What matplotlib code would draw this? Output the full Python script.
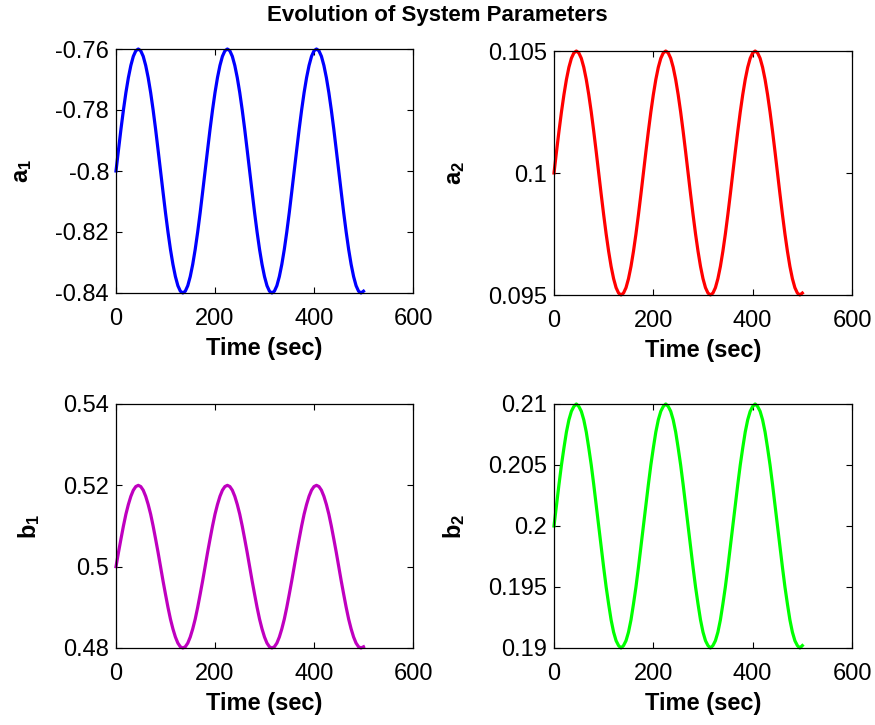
import matplotlib
matplotlib.use("Agg")
import matplotlib.pyplot as plt
import numpy as np

plt.rcParams['font.family'] = ['Liberation Sans', 'DejaVu Sans']
plt.rcParams['mathtext.default'] = 'regular'

# sample times (sec), every 5 s from 0 to 500
time_sec = np.arange(0, 505, 5)

a1 = [
    -0.8, -0.7931, -0.7863, -0.78, -0.7743, -0.7694, -0.7654, -0.7624, -0.7606, -0.76, -0.7606, -0.7624,
    -0.7654, -0.7694, -0.7743, -0.78, -0.7863, -0.7931, -0.8, -0.8069, -0.8137, -0.82, -0.8257, -0.8306,
    -0.8346, -0.8376, -0.8394, -0.84, -0.8394, -0.8376, -0.8346, -0.8306, -0.8257, -0.82, -0.8137, -0.8069,
    -0.8, -0.7931, -0.7863, -0.78, -0.7743, -0.7694, -0.7654, -0.7624, -0.7606, -0.76, -0.7606, -0.7624,
    -0.7654, -0.7694, -0.7743, -0.78, -0.7863, -0.7931, -0.8, -0.8069, -0.8137, -0.82, -0.8257, -0.8306,
    -0.8346, -0.8376, -0.8394, -0.84, -0.8394, -0.8376, -0.8346, -0.8306, -0.8257, -0.82, -0.8137, -0.8069,
    -0.8, -0.7931, -0.7863, -0.78, -0.7743, -0.7694, -0.7654, -0.7624, -0.7606, -0.76, -0.7606, -0.7624,
    -0.7654, -0.7694, -0.7743, -0.78, -0.7863, -0.7931, -0.8, -0.8069, -0.8137, -0.82, -0.8257, -0.8306,
    -0.8346, -0.8376, -0.8394, -0.84, -0.8394,
]

a2 = [
    0.1, 0.10087, 0.10171, 0.1025, 0.10321, 0.10383, 0.10433, 0.1047, 0.10492, 0.105, 0.10492, 0.1047,
    0.10433, 0.10383, 0.10321, 0.1025, 0.10171, 0.10087, 0.1, 0.09913, 0.09829, 0.0975, 0.09679, 0.09617,
    0.09567, 0.0953, 0.09508, 0.095, 0.09508, 0.0953, 0.09567, 0.09617, 0.09679, 0.0975, 0.09829, 0.09913,
    0.1, 0.10087, 0.10171, 0.1025, 0.10321, 0.10383, 0.10433, 0.1047, 0.10492, 0.105, 0.10492, 0.1047,
    0.10433, 0.10383, 0.10321, 0.1025, 0.10171, 0.10087, 0.1, 0.09913, 0.09829, 0.0975, 0.09679, 0.09617,
    0.09567, 0.0953, 0.09508, 0.095, 0.09508, 0.0953, 0.09567, 0.09617, 0.09679, 0.0975, 0.09829, 0.09913,
    0.1, 0.10087, 0.10171, 0.1025, 0.10321, 0.10383, 0.10433, 0.1047, 0.10492, 0.105, 0.10492, 0.1047,
    0.10433, 0.10383, 0.10321, 0.1025, 0.10171, 0.10087, 0.1, 0.09913, 0.09829, 0.0975, 0.09679, 0.09617,
    0.09567, 0.0953, 0.09508, 0.095, 0.09508,
]

b1 = [
    0.5, 0.5035, 0.5068, 0.51, 0.5129, 0.5153, 0.5173, 0.5188, 0.5197, 0.52, 0.5197, 0.5188,
    0.5173, 0.5153, 0.5129, 0.51, 0.5068, 0.5035, 0.5, 0.4965, 0.4932, 0.49, 0.4871, 0.4847,
    0.4827, 0.4812, 0.4803, 0.48, 0.4803, 0.4812, 0.4827, 0.4847, 0.4871, 0.49, 0.4932, 0.4965,
    0.5, 0.5035, 0.5068, 0.51, 0.5129, 0.5153, 0.5173, 0.5188, 0.5197, 0.52, 0.5197, 0.5188,
    0.5173, 0.5153, 0.5129, 0.51, 0.5068, 0.5035, 0.5, 0.4965, 0.4932, 0.49, 0.4871, 0.4847,
    0.4827, 0.4812, 0.4803, 0.48, 0.4803, 0.4812, 0.4827, 0.4847, 0.4871, 0.49, 0.4932, 0.4965,
    0.5, 0.5035, 0.5068, 0.51, 0.5129, 0.5153, 0.5173, 0.5188, 0.5197, 0.52, 0.5197, 0.5188,
    0.5173, 0.5153, 0.5129, 0.51, 0.5068, 0.5035, 0.5, 0.4965, 0.4932, 0.49, 0.4871, 0.4847,
    0.4827, 0.4812, 0.4803, 0.48, 0.4803,
]

b2 = [
    0.2, 0.2017, 0.2034, 0.205, 0.2064, 0.2077, 0.2087, 0.2094, 0.2098, 0.21, 0.2098, 0.2094,
    0.2087, 0.2077, 0.2064, 0.205, 0.2034, 0.2017, 0.2, 0.1983, 0.1966, 0.195, 0.1936, 0.1923,
    0.1913, 0.1906, 0.1902, 0.19, 0.1902, 0.1906, 0.1913, 0.1923, 0.1936, 0.195, 0.1966, 0.1983,
    0.2, 0.2017, 0.2034, 0.205, 0.2064, 0.2077, 0.2087, 0.2094, 0.2098, 0.21, 0.2098, 0.2094,
    0.2087, 0.2077, 0.2064, 0.205, 0.2034, 0.2017, 0.2, 0.1983, 0.1966, 0.195, 0.1936, 0.1923,
    0.1913, 0.1906, 0.1902, 0.19, 0.1902, 0.1906, 0.1913, 0.1923, 0.1936, 0.195, 0.1966, 0.1983,
    0.2, 0.2017, 0.2034, 0.205, 0.2064, 0.2077, 0.2087, 0.2094, 0.2098, 0.21, 0.2098, 0.2094,
    0.2087, 0.2077, 0.2064, 0.205, 0.2034, 0.2017, 0.2, 0.1983, 0.1966, 0.195, 0.1936, 0.1923,
    0.1913, 0.1906, 0.1902, 0.19, 0.1902,
]

x_ticks = [0, 200, 400, 600]
a1_ticks = [-0.84, -0.82, -0.8, -0.78, -0.76]
a1_labels = ['-0.84', '-0.82', '-0.8', '-0.78', '-0.76']
a2_ticks = [0.095, 0.1, 0.105]
a2_labels = ['0.095', '0.1', '0.105']
b1_ticks = [0.48, 0.5, 0.52, 0.54]
b1_labels = ['0.48', '0.5', '0.52', '0.54']
b2_ticks = [0.19, 0.195, 0.2, 0.205, 0.21]
b2_labels = ['0.19', '0.195', '0.2', '0.205', '0.21']

W, H = 875, 725
fig = plt.figure(figsize=(W / 100, H / 100), dpi=100)

def add_panel(x0, y0, x1, y1):
    # pixel box -> figure fraction
    return fig.add_axes([x0 / W, 1 - y1 / H, (x1 - x0) / W, (y1 - y0) / H])

panels = [
    (add_panel(116, 49, 413, 293), a1, 'b', r'a$_1$', a1_ticks, a1_labels, (-0.84, -0.76)),
    (add_panel(554, 51, 852, 295), a2, 'r', r'a$_2$', a2_ticks, a2_labels, (0.095, 0.105)),
    (add_panel(116, 404, 413, 648), b1, '#bf00bf', r'b$_1$', b1_ticks, b1_labels, (0.48, 0.54)),
    (add_panel(554, 404, 852, 648), b2, '#00ff00', r'b$_2$', b2_ticks, b2_labels, (0.19, 0.21)),
]

for ax, vals, col, ylab, yt, ytl, ylim in panels:
    ax.plot(time_sec, vals, color=col, linewidth=2.3, clip_on=False)
    ax.set_xlim(0, 600)
    ax.set_ylim(*ylim)
    ax.set_xticks(x_ticks)
    ax.set_xticklabels([str(t) for t in x_ticks])
    ax.set_yticks(yt)
    ax.set_yticklabels(ytl)
    ax.tick_params(direction='in', top=True, right=True, length=4, width=0.8,
                   labelsize=17)
    ax.tick_params(axis='x', pad=11)
    ax.tick_params(axis='y', pad=5)
    for s in ax.spines.values():
        s.set_linewidth(0.9)
    ax.set_xlabel('Time (sec)', fontsize=17, fontweight='bold', labelpad=5)
    ax.set_ylabel(ylab, fontsize=17, fontweight='bold', labelpad=15)

fig.text(0.5, 1 - 16 / H, 'Evolution of System Parameters', ha='center', va='center',
         fontsize=16, fontweight='bold')

fig.savefig('out.png', dpi=100)
